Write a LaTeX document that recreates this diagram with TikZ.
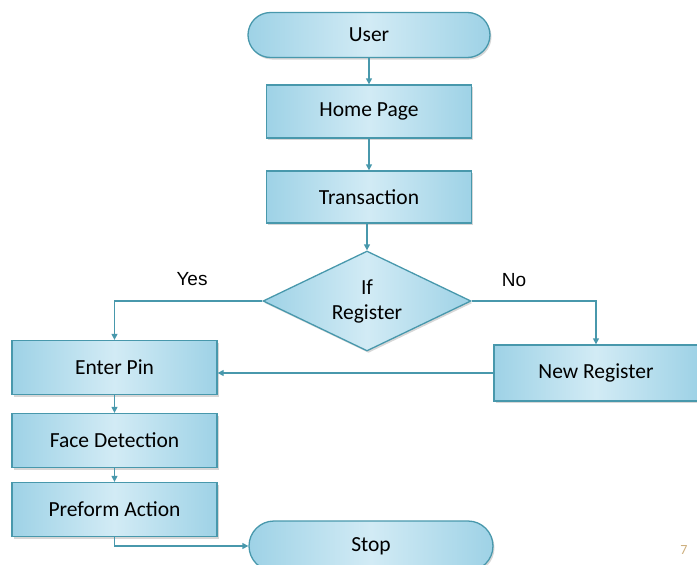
\documentclass[tikz,border=0pt]{standalone}
\usepackage{fontspec}
\setmainfont{Carlito}
\newfontfamily\arialfont{Liberation Sans}
\usetikzlibrary{shapes.geometric,shapes.misc,arrows.meta,shadows}
\definecolor{edgec}{RGB}{72,152,172}
\definecolor{fillE}{RGB}{158,210,230}
\definecolor{fillM}{RGB}{210,235,245}
\definecolor{pagenum}{RGB}{205,175,125}
\begin{document}
\begin{tikzpicture}[x=1pt,y=-1pt,
  shapebase/.style={draw=edgec, line width=1.3pt, left color=fillE, right color=fillE, middle color=fillM,
    drop shadow={shadow xshift=1.5pt, shadow yshift=-2pt, fill=black!35, opacity=0.45},
    font=\fontsize{21.5}{24}\selectfont, text=black, inner sep=0pt, align=center},
  procbox/.style={shapebase, rectangle, minimum width=205pt, minimum height=54pt},
  termbox/.style={shapebase, rounded rectangle, minimum width=242pt, minimum height=45pt},
  decbox/.style={shapebase, diamond, aspect=2.08, minimum width=208pt, minimum height=100pt},
  conn/.style={draw=edgec, line width=1.3pt, -{Triangle[width=6pt,length=6pt]}},
  lbl/.style={font=\arialfont\fontsize{19}{22}\selectfont, text=black}
]
\useasboundingbox (0,0) rectangle (697,565);
\node[termbox] (user) at (369,35) {User};
\node[procbox, minimum height=53pt] (home) at (369,111.5) {Home Page};
\node[procbox, minimum height=52pt] (trans) at (369,197) {Transaction};
\node[decbox] (dec) at (367,301) {If\\[1pt]Register};
\node[procbox] (enter) at (114.5,367.5) {Enter Pin};
\node[procbox, minimum width=204pt, minimum height=56pt] (newreg) at (596,373) {New Register};
\node[procbox] (face) at (114.5,440.5) {Face Detection};
\node[procbox] (perf) at (114.5,509.5) {Preform Action};
\node[termbox, minimum width=244pt, minimum height=50pt] (stop) at (371,546) {Stop};
\node[lbl] (yes) at (192,279) {Yes};
\node[lbl] (no) at (514,280) {No};
\node[font=\fontsize{14}{15}\selectfont, text=pagenum] (pg) at (684,550) {7};

\draw[conn] (user.south) -- (user.south |- home.north);
\draw[conn] (home) -- (trans);
\draw[conn] (trans.south) -- (trans.south -| dec.north) -- (dec.north);
\draw[conn] (dec.west) -| (enter.north);
\draw[conn] (dec.east) -| (newreg.north);
\draw[conn] (newreg.west) -- (newreg.west -| enter.east);
\draw[conn] (enter) -- (face);
\draw[conn] (face) -- (perf);
\draw[conn] (perf.south) |- (stop.west);
\end{tikzpicture}
\end{document}
